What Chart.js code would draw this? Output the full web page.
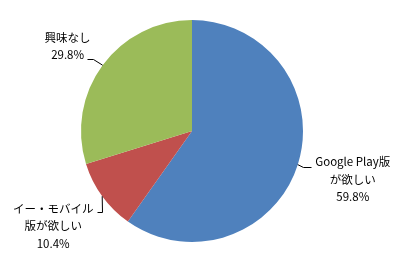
<!DOCTYPE html>
<html><head><meta charset="utf-8">
<script src="https://cdn.jsdelivr.net/npm/chart.js@4.4.1/dist/chart.umd.min.js"></script>
<style>html,body{margin:0;padding:0;background:#fff;}#wrap{width:400px;height:270px;}</style>
</head><body><div id="wrap"><canvas id="c" width="400" height="270"></canvas></div>
<script>
const categories = ['Google Play版が欲しい', 'イー・モバイル版が欲しい', '興味なし'];
const values = [59.8, 10.4, 29.8];
const labelLines = [['Google Play版', 'が欲しい', '59.8%'], ['イー・モバイル', '版が欲しい', '10.4%'], ['興味なし', '29.8%']];
const colors = ['#4F81BD', '#C0504D', '#9BBB59'];

// label layout relative to the slice edge point at mid-angle
const labelLayout = [
  {leader: [[5, 2], [13, 2]], cx: 55, cy: -3},
  {leader: [[0, 16], [-5, 16]], cx: -49, cy: 12},
  {leader: [[-10, -6], [-16, -6]], cx: -35, cy: -28}
];
const FONT = '11.5px "Noto Sans CJK JP", sans-serif';
const LINE_H = 17.5;

const labelPlugin = {
  id: 'outLabels',
  afterDatasetsDraw(chart) {
    const ctx = chart.ctx;
    const meta = chart.getDatasetMeta(0);
    meta.data.forEach((arc, i) => {
      const p = arc.getProps(['x', 'y', 'startAngle', 'endAngle', 'outerRadius'], true);
      const mid = (p.startAngle + p.endAngle) / 2;
      const ex = p.x + Math.cos(mid) * p.outerRadius;
      const ey = p.y + Math.sin(mid) * p.outerRadius;
      const L = labelLayout[i];
      ctx.save();
      ctx.strokeStyle = '#000';
      ctx.lineWidth = 1;
      ctx.beginPath();
      ctx.moveTo(ex, ey);
      L.leader.forEach(([dx, dy]) => ctx.lineTo(Math.round(ex + dx) + 0.5, Math.round(ey + dy) + 0.5));
      ctx.stroke();
      ctx.fillStyle = '#000';
      ctx.font = FONT;
      ctx.textAlign = 'center';
      ctx.textBaseline = 'middle';
      const lines = labelLines[i];
      lines.forEach((t, k) => {
        ctx.fillText(t, ex + L.cx, ey + L.cy + k * LINE_H);
      });
      ctx.restore();
    });
  }
};

new Chart(document.getElementById('c'), {
  type: 'pie',
  data: {labels: categories, datasets: [{data: values, backgroundColor: colors, borderWidth: 0}]},
  options: {
    responsive: false,
    animation: false,
    layout: {padding: {left: 81, right: 97, top: 20, bottom: 28}},
    plugins: {legend: {display: false}, tooltip: {enabled: false}}
  },
  plugins: [labelPlugin]
});
</script></body></html>
